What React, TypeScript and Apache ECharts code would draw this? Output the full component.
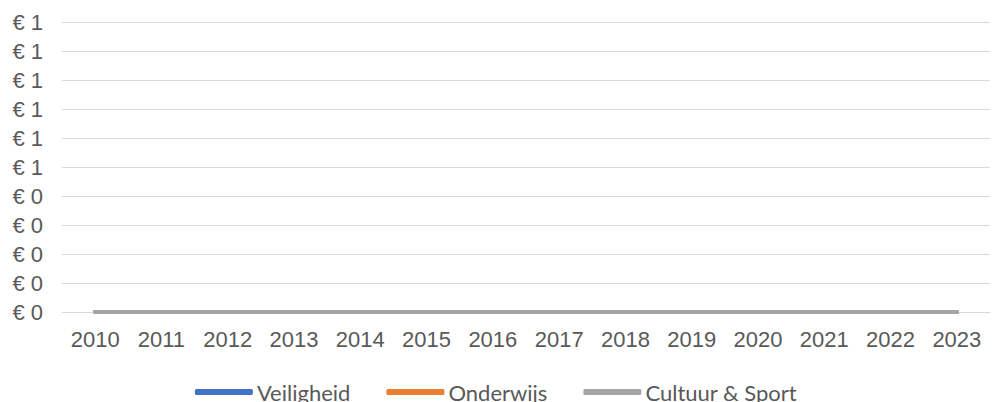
import React, { useEffect, useRef } from "react";
import * as echarts from "echarts";

const years = ["2010", "2011", "2012", "2013", "2014", "2015", "2016", "2017", "2018", "2019", "2020", "2021", "2022", "2023"];
const veiligheid = [0, 0, 0, 0, 0, 0, 0, 0, 0, 0, 0, 0, 0, 0];
const onderwijs = [0, 0, 0, 0, 0, 0, 0, 0, 0, 0, 0, 0, 0, 0];
const cultuurSport = [0, 0, 0, 0, 0, 0, 0, 0, 0, 0, 0, 0, 0, 0];

export default function App() {
  const ref = useRef<HTMLDivElement>(null);
  useEffect(() => {
    document.body.style.margin = "0";
    const chart = echarts.init(ref.current!, undefined, { renderer: "svg" });
    const mk = (name: string, data: number[], color: string) => ({
      name,
      type: "line",
      data,
      showSymbol: false,
      symbol: "none",
      lineStyle: { width: 4, color, cap: "round" },
      itemStyle: { color },
    });
    chart.setOption({
      animation: false,
      grid: { left: 62, right: 2, top: 22, bottom: 90 },
      xAxis: {
        type: "category",
        data: years,
        boundaryGap: true,
        axisLine: { lineStyle: { color: "#d9d9d9", width: 1 } },
        axisTick: { show: false },
        axisLabel: { color: "#595959", fontSize: 22, fontFamily: "Liberation Sans, Arial", margin: 16 },
      },
      yAxis: {
        type: "value",
        min: 0,
        max: 1,
        interval: 0.1,
        axisLine: { show: false },
        axisTick: { show: false },
        splitLine: { lineStyle: { color: "#d9d9d9", width: 1 } },
        axisLabel: {
          color: "#595959",
          fontSize: 22,
          fontFamily: "Liberation Sans, Arial",
          margin: 19,
          formatter: (v: number) => "€ " + Math.round(v),
        },
      },
      legend: {
        top: 376,
        left: "center",
        itemWidth: 58,
        itemHeight: 6,
        itemGap: 36,
        icon: "roundRect",
        textStyle: { color: "#595959", fontSize: 22, fontFamily: "Lato, Carlito, Calibri, sans-serif", padding: [0, 0, 0, -1] },
        data: ["Veiligheid", "Onderwijs", "Cultuur & Sport"],
      },
      series: [
        mk("Veiligheid", veiligheid, "#4472c4"),
        mk("Onderwijs", onderwijs, "#ed7d31"),
        mk("Cultuur & Sport", cultuurSport, "#a5a5a5"),
      ],
    });
    return () => chart.dispose();
  }, []);
  return <div ref={ref} style={{ width: 992, height: 402 }} />;
}
